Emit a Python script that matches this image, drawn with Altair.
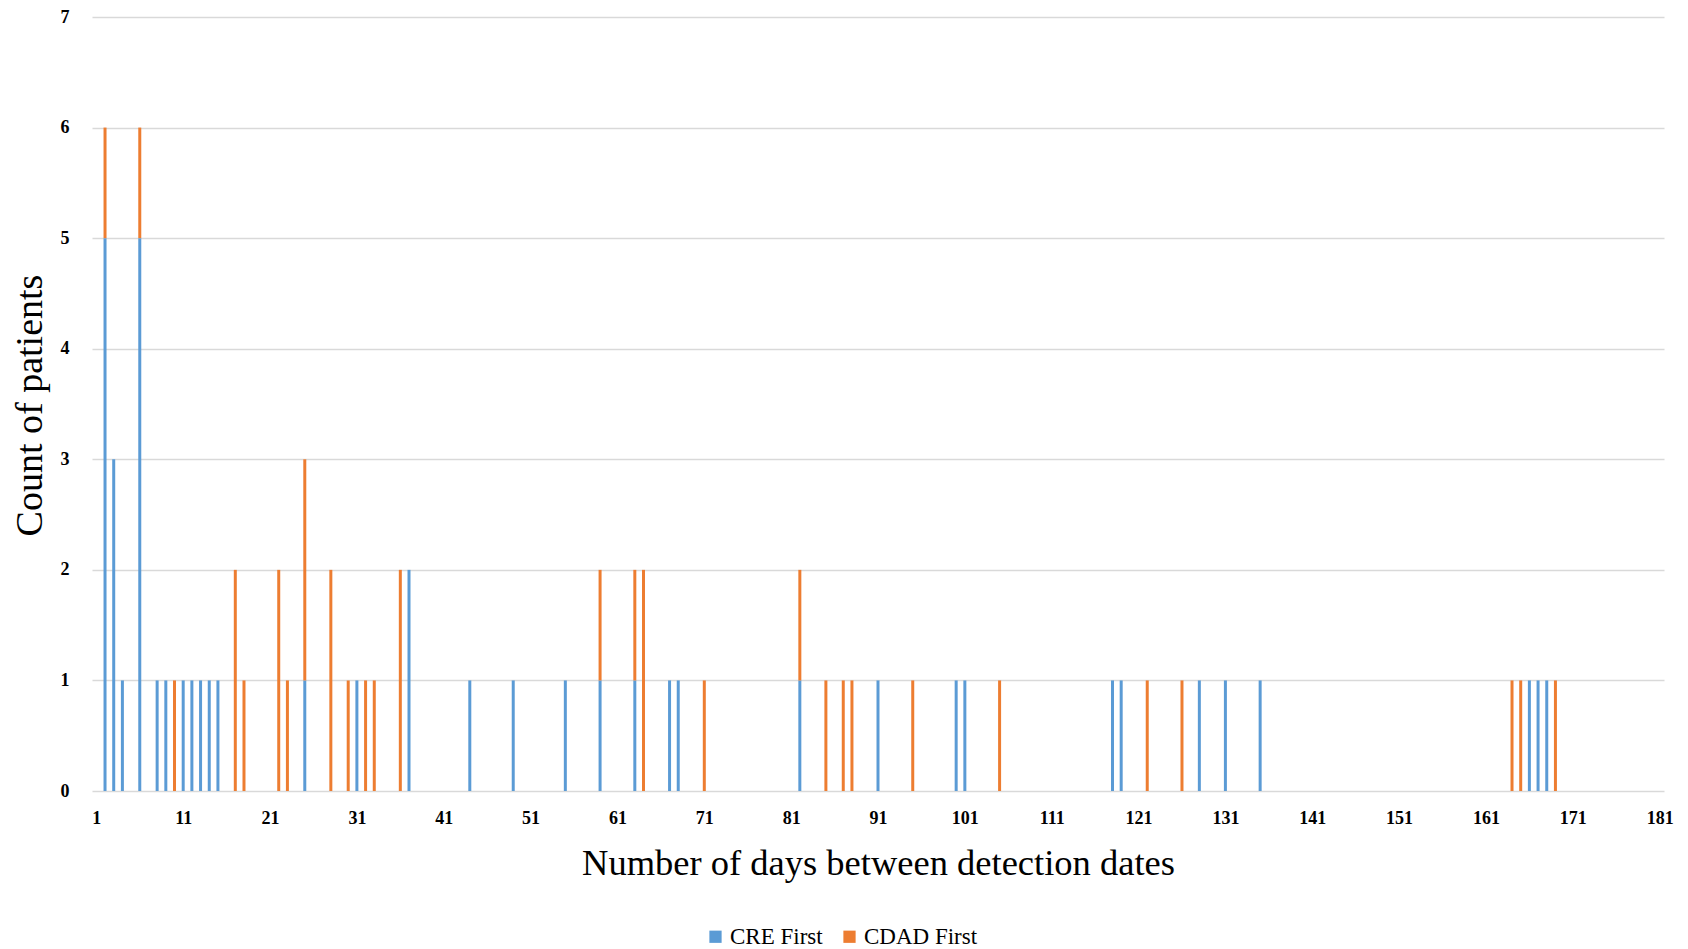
import altair as alt
import pandas as pd

# Data
days_cre = [2, 3, 4, 6, 8, 9, 11, 12, 13, 14, 15, 25, 31, 37, 44, 49, 55, 59, 63, 67, 68,
            82, 91, 100, 101, 118, 119, 128, 131, 135, 166, 167, 168]
counts_cre = [5, 3, 1, 5, 1, 1, 1, 1, 1, 1, 1, 1, 1, 2, 1, 1, 1, 1, 1, 1, 1,
              1, 1, 1, 1, 1, 1, 1, 1, 1, 1, 1, 1]
days_cdad = [2, 6, 10, 17, 18, 22, 23, 25, 28, 30, 32, 33, 36, 59, 63, 64, 71, 82, 85, 87,
             88, 95, 105, 122, 126, 164, 165, 169]
counts_cdad = [1, 1, 1, 2, 1, 2, 1, 2, 2, 1, 1, 1, 2, 1, 1, 2, 1, 1, 1, 1,
               1, 1, 1, 1, 1, 1, 1, 1]
series_names = ["CRE First", "CDAD First"]
series_colors = ["#5B9BD5", "#ED7D31"]
x_ticks = list(range(1, 182, 10))
y_ticks = list(range(0, 8))

rows = []
for d, c in zip(days_cre, counts_cre):
    rows.append({"day": d, "count": c, "series": series_names[0], "ord": 0})
for d, c in zip(days_cdad, counts_cdad):
    rows.append({"day": d, "count": c, "series": series_names[1], "ord": 1})
df = pd.DataFrame(rows)

FONT = "Liberation Serif"

chart = alt.Chart(df).mark_bar(size=3).encode(
    x=alt.X(
        "day:Q",
        scale=alt.Scale(domain=[0.5, 181.5], nice=False, zero=False, padding=0),
        axis=alt.Axis(
            values=x_ticks,
            title="Number of days between detection dates",
            grid=False, domain=False, ticks=False,
            labelFontSize=18, labelFontWeight="bold", labelColor="#000000",
            labelPadding=18, labelFlush=False, labelOverlap=False,
            titleFontSize=36.5, titleFontWeight="normal", titleColor="#000000",
            titleY=72, titleBaseline="middle",
        ),
    ),
    y=alt.Y(
        "count:Q",
        stack="zero",
        scale=alt.Scale(domain=[0, 7], nice=False),
        axis=alt.Axis(
            values=y_ticks,
            title="Count of patients",
            domain=False, ticks=False,
            gridColor="#d9d9d9", gridWidth=1.5,
            labelFontSize=18, labelFontWeight="bold", labelColor="#000000",
            labelPadding=23,
            titleFontSize=38, titleFontWeight="normal", titleColor="#000000",
            titleX=-62, titleY=388, titleAngle=-90,
            titleAlign="center", titleBaseline="middle",
        ),
    ),
    color=alt.Color(
        "series:N",
        scale=alt.Scale(domain=series_names, range=series_colors),
        legend=alt.Legend(
            title=None, orient="none", legendX=612, legendY=908,
            direction="horizontal", symbolType="square", symbolSize=150,
            symbolStrokeWidth=0, labelFontSize=23, labelColor="#000000",
            columnPadding=15, labelOffset=3,
        ),
    ),
    order=alt.Order("ord:Q"),
).properties(
    width=1572,
    height=774,
    autosize=alt.AutoSizeParams(type="none"),
    padding={"left": 92, "top": 17, "right": 24, "bottom": 158},
).configure(
    font=FONT
).configure_view(
    stroke=None
)

chart.save("out.html", embed_options={"renderer": "svg", "actions": False})
